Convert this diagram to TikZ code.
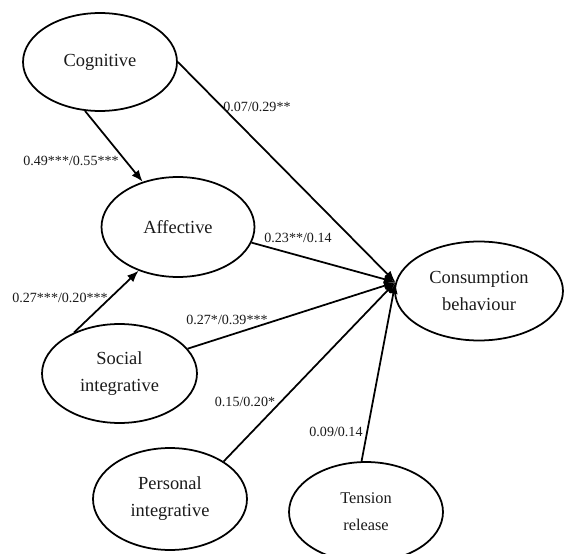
\documentclass[tikz,border=0pt]{standalone}
\usepackage{fontspec}
\setmainfont{Liberation Serif}
\usepackage{tikz}
\usetikzlibrary{
  arrows.meta,
  shapes,
  shapes.geometric,
  positioning,
  calc
}
\definecolor{smInk}{HTML}{000000}
\definecolor{smText}{HTML}{1A1A1A}
\tikzset{
  latent/.style={
    draw=smInk, ellipse, line width=1pt, inner sep=0pt, align=center,
    font=\fontsize{10.5}{15.4}\selectfont, text=smText
  },
  smallatent/.style={latent, font=\fontsize{9.3}{15.4}\selectfont},
  effect/.style={-{Latex[length=2.3mm, width=1.8mm]}, line width=1pt, smInk},
  coef/.style={font=\fontsize{8}{9.6}\selectfont, text=smText, inner sep=1pt}
}
\begin{document}
\begin{tikzpicture}[x=0.02cm, y=-0.02cm]
  \useasboundingbox (0,0) rectangle (565,554);
  \node[latent, minimum width=3.08cm, minimum height=1.96cm] (cog) at (100,62) {Cognitive};
  \node[latent, minimum width=3.06cm, minimum height=2.0cm] (aff) at (178,227) {Affective};
  \node[latent, minimum width=3.1cm, minimum height=1.98cm] (soc) at (119.5,373.5) {Social\\integrative};
  \node[latent, minimum width=3.08cm, minimum height=2.04cm] (pers) at (170,499) {Personal\\integrative};
  \node[smallatent, minimum width=3.08cm, minimum height=2.0cm] (tens) at (366,512) {Tension\\release};
  \node[latent, minimum width=3.36cm, minimum height=1.98cm] (cb) at (479,291) {Consumption\\behaviour};
  \coordinate (hub) at (cb.174);
  \draw[effect] (cog.east) -- (hub); \draw[effect] (cog.-107) -- (aff.128);
  \draw[effect] (aff.-12) -- (hub); \draw[effect] (soc.138) -- (aff.-132);
  \draw[effect] (soc.20) -- (hub); \draw[effect] (pers.35) -- (hub);
  \draw[effect] (tens.95) -- (hub);
  \node[coef] (c1) at (257,107) {0.07/0.29**};
  \node[coef] (c2) at (71,161) {0.49***/0.55***};
  \node[coef] (c3) at (298,238) {0.23**/0.14};
  \node[coef] (c4) at (60,298) {0.27***/0.20***};
  \node[coef] (c5) at (227,320) {0.27*/0.39***};
  \node[coef] (c6) at (245,402) {0.15/0.20*};
  \node[coef] (c7) at (336,432) {0.09/0.14};
\end{tikzpicture}
\end{document}
